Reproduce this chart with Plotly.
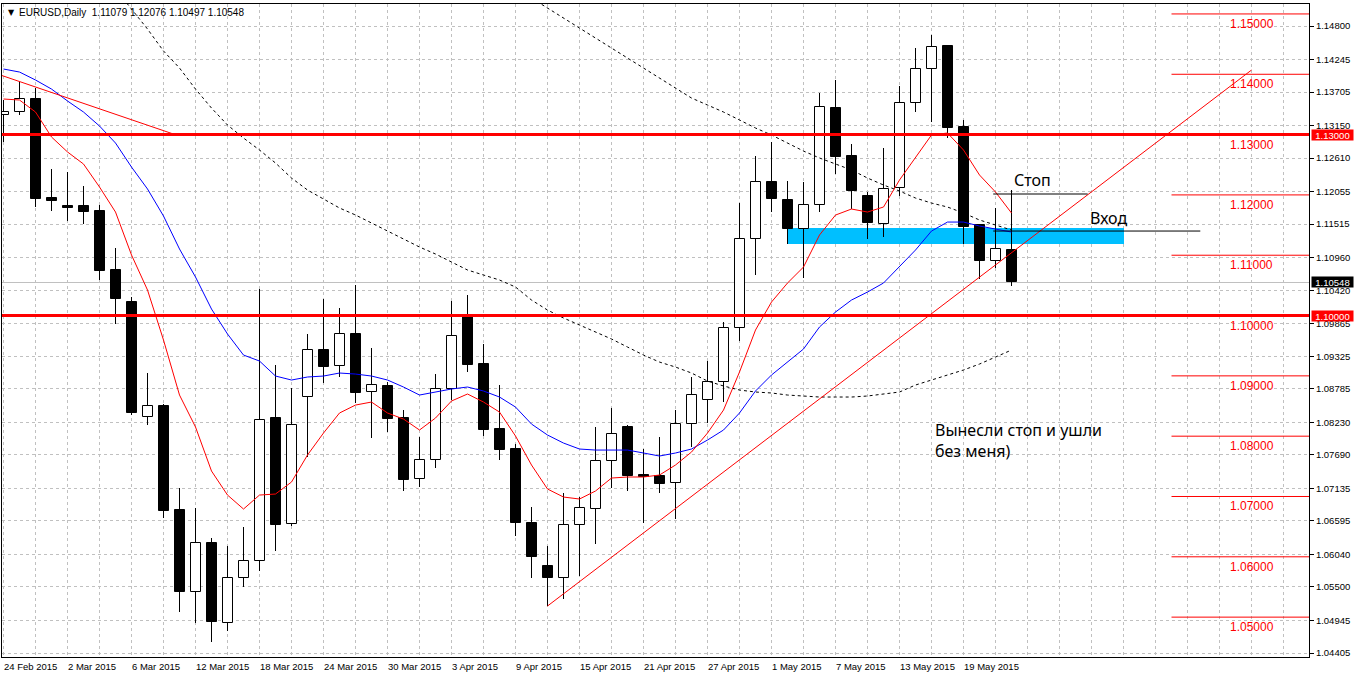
import plotly.graph_objects as go
import pandas as pd

# ---------------- data ----------------
symbol = "EURUSD,Daily"
dates = pd.bdate_range("2015-02-24", "2015-05-22")

opens = [1.1332, 1.1337, 1.1359, 1.1195, 1.1182, 1.1182, 1.1173, 1.1075,
         1.1022, 1.0832, 1.0850, 1.0678, 1.0542, 1.0623, 1.0490, 1.0565,
         1.0593, 1.0830, 1.0655, 1.0865, 1.0943, 1.0916, 1.0969, 1.0873,
         1.0883, 1.0830, 1.0729, 1.0760, 1.0878, 1.0998, 1.0920, 1.0812,
         1.0779, 1.0656, 1.0585, 1.0565, 1.0653, 1.0679, 1.0759, 1.0815,
         1.0736, 1.0734, 1.0722, 1.0820, 1.0860, 1.0890, 1.0979, 1.1127,
         1.1221, 1.1192, 1.1143, 1.1183, 1.1344, 1.1265, 1.1198, 1.1152,
         1.1211, 1.1352, 1.1409, 1.1447, 1.1313, 1.1150, 1.1090, 1.11079]
highs = [1.1357, 1.1387, 1.1377, 1.1243, 1.1238, 1.1215, 1.1183, 1.1112,
         1.1031, 1.0905, 1.0853, 1.0714, 1.0681, 1.0631, 1.0618, 1.0649,
         1.1044, 1.0918, 1.0880, 1.0969, 1.1027, 1.1012, 1.1051, 1.0946,
         1.0890, 1.0843, 1.0799, 1.0903, 1.1024, 1.1034, 1.0953, 1.0885,
         1.0787, 1.0683, 1.0618, 1.0706, 1.0699, 1.0815, 1.0847, 1.0818,
         1.0779, 1.0799, 1.0843, 1.0898, 1.0925, 1.0989, 1.1187, 1.1264,
         1.1288, 1.1223, 1.1221, 1.1369, 1.1390, 1.1284, 1.1205, 1.1278,
         1.1381, 1.1444, 1.1465, 1.1448, 1.1324, 1.1152, 1.1178, 1.12076]
lows = [1.1288, 1.1332, 1.1180, 1.1173, 1.1157, 1.1152, 1.1059, 1.0986,
        1.0835, 1.0819, 1.0664, 1.0509, 1.0490, 1.0459, 1.0477, 1.0550,
        1.0576, 1.0610, 1.0651, 1.0765, 1.0888, 1.0898, 1.0855, 1.0797,
        1.0807, 1.0709, 1.0716, 1.0747, 1.0860, 1.0906, 1.0800, 1.0760,
        1.0634, 1.0565, 1.0518, 1.0530, 1.0568, 1.0621, 1.0714, 1.0709,
        1.0656, 1.0706, 1.0663, 1.0782, 1.0822, 1.0857, 1.0958, 1.1067,
        1.1172, 1.1119, 1.1062, 1.1172, 1.1235, 1.1177, 1.1127, 1.1130,
        1.1198, 1.1337, 1.1321, 1.1294, 1.1119, 1.1061, 1.1079, 1.10497]
closes = [1.1337, 1.1359, 1.1193, 1.1190, 1.1179, 1.1172, 1.1074, 1.1027,
          1.0838, 1.0850, 1.0676, 1.0542, 1.0623, 1.0492, 1.0565, 1.0593,
          1.0827, 1.0653, 1.0818, 1.0943, 1.0915, 1.0969, 1.0872, 1.0885,
          1.0828, 1.0727, 1.0760, 1.0878, 1.0966, 1.0918, 1.0810, 1.0777,
          1.0656, 1.0600, 1.0565, 1.0653, 1.0681, 1.0759, 1.0804, 1.0734,
          1.0732, 1.0721, 1.0820, 1.0868, 1.0890, 1.0979, 1.1127, 1.1221,
          1.1193, 1.1143, 1.1183, 1.1346, 1.1263, 1.1206, 1.1153, 1.1210,
          1.1352, 1.1409, 1.1445, 1.1311, 1.1147, 1.1090, 1.1110, 1.10548]

# moving averages (one value per bar)
ma_red = [1.13590, 1.13573, 1.13374, 1.12960, 1.12712, 1.12512, 1.12131, 1.11716,
          1.11004, 1.10423, 1.09594, 1.08682, 1.08152, 1.07422, 1.07024, 1.06792,
          1.07024, 1.07041, 1.07240, 1.07688, 1.08052, 1.08384, 1.08516, 1.08566,
          1.08384, 1.08284, 1.08102, 1.08301, 1.08583, 1.08699, 1.08566, 1.08400,
          1.08003, 1.07522, 1.07124, 1.06991, 1.06958, 1.07091, 1.07306, 1.07323,
          1.07323, 1.07356, 1.07522, 1.07737, 1.08052, 1.08433, 1.09064, 1.09760,
          1.10224, 1.10539, 1.10804, 1.11335, 1.11666, 1.11766, 1.11716, 1.11799,
          1.12247, 1.12612, 1.12993, 1.13026, 1.12744, 1.12330, 1.12048, 1.11700]
ma_blue = [1.14087, 1.14037, 1.13905, 1.13755, 1.13557, 1.13374, 1.13142, 1.12860,
           1.12462, 1.12098, 1.11650, 1.11103, 1.10639, 1.10108, 1.09694, 1.09345,
           1.09246, 1.08997, 1.08931, 1.08981, 1.08997, 1.09047, 1.09030, 1.08997,
           1.08931, 1.08815, 1.08682, 1.08732, 1.08782, 1.08815, 1.08749, 1.08649,
           1.08483, 1.08201, 1.08019, 1.07886, 1.07787, 1.07770, 1.07770, 1.07770,
           1.07721, 1.07671, 1.07721, 1.07787, 1.07936, 1.08102, 1.08384, 1.08749,
           1.09014, 1.09229, 1.09445, 1.09810, 1.10058, 1.10257, 1.10390, 1.10539,
           1.10804, 1.11086, 1.11401, 1.11550, 1.11550, 1.11484, 1.11434, 1.11384]
ma_slow1_first_bar = 7
ma_slow1 = [1.15413, 1.15082, 1.14750, 1.14386, 1.14104, 1.13755, 1.13440, 1.13159, 1.12943,
            1.12744, 1.12529, 1.12280, 1.12081, 1.11932, 1.11783, 1.11667, 1.11534,
            1.11401, 1.11269, 1.11136, 1.11020, 1.10887, 1.10755, 1.10672, 1.10589,
            1.10473, 1.10257, 1.10091, 1.09959, 1.09843, 1.09727, 1.09611, 1.09478,
            1.09345, 1.09229, 1.09146, 1.09047, 1.08914, 1.08832, 1.08765, 1.08732,
            1.08716, 1.08682, 1.08666, 1.08649, 1.08649, 1.08649, 1.08666, 1.08699,
            1.08732, 1.08848, 1.08931, 1.09014, 1.09097, 1.09196, 1.09312, 1.09428]
ma_slow2_first_bar = 33
ma_slow2 = [1.15264, 1.15098, 1.14933, 1.14767, 1.14601, 1.14435, 1.14269, 1.14104,
            1.13938, 1.13772, 1.13606, 1.13490, 1.13374, 1.13242, 1.13109, 1.12993,
            1.12860, 1.12727, 1.12612, 1.12512, 1.12413, 1.12280, 1.12164, 1.12065,
            1.11948, 1.11865, 1.11799, 1.11700, 1.11584, 1.11501, 1.11418]

y_ticks = [1.14800, 1.14245, 1.13705, 1.13150, 1.12610, 1.12055, 1.11515, 1.10960,
           1.10420, 1.09865, 1.09325, 1.08785, 1.08230, 1.07690, 1.07135, 1.06595,
           1.06040, 1.05500, 1.04945, 1.04405]
label_bars = list(range(0, 61, 4))

key_levels = [1.13000, 1.10000]
thin_levels = [1.15, 1.14, 1.12, 1.11, 1.09, 1.08, 1.07, 1.06, 1.05]
thin_level_start = 73
level_label_bar = 78.0

trend_down_x = [-0.2, 10.72]
trend_down_y = [1.13988, 1.13000]
trend_up_x = [34, 78]
trend_up_y = [1.05184, 1.14070]
zone_x = [49, 70]
zone_y = [1.11181, 1.11451]
stop_x = [61.86, 67.76]
stop_price = 1.12015
entry_x = [61.86, 74.8]
entry_price = 1.11401

x_range = [-0.09375, 81.59375]
y_range = [1.04339, 1.15165]

AXF = "Liberation Sans, Arial, sans-serif"
TEXTF = "Noto Sans, Open Sans, sans-serif"

# ---------------- figure ----------------
idx = list(range(len(dates)))
fig = go.Figure()

# entry zone (first bar trace -> drawn behind the candles, above the grid)
fig.add_trace(go.Bar(x=[(zone_x[0] + zone_x[1]) / 2], base=[zone_y[0]],
                     y=[zone_y[1] - zone_y[0]], width=zone_x[1] - zone_x[0],
                     marker=dict(color="#00BFFF", line=dict(width=0)), hoverinfo="skip"))
# wicks
fig.add_trace(go.Bar(x=idx, base=lows, y=[h - l for h, l in zip(highs, lows)],
                     width=1 / 16, marker=dict(color="black", line=dict(width=0)),
                     hoverinfo="skip"))
# bodies
fig.add_trace(go.Bar(x=idx, base=[min(o, c) for o, c in zip(opens, closes)],
                     y=[abs(c - o) for o, c in zip(opens, closes)],
                     width=0.625,
                     marker=dict(color=["white" if c >= o else "black" for o, c in zip(opens, closes)],
                                 line=dict(color="black", width=1)),
                     hoverinfo="skip"))

fig.add_trace(go.Scatter(x=list(range(ma_slow1_first_bar, ma_slow1_first_bar + len(ma_slow1))),
                         y=ma_slow1, mode="lines",
                         line=dict(color="black", width=1, dash="dot")))
fig.add_trace(go.Scatter(x=list(range(ma_slow2_first_bar, ma_slow2_first_bar + len(ma_slow2))),
                         y=ma_slow2, mode="lines",
                         line=dict(color="black", width=1, dash="dot")))
fig.add_trace(go.Scatter(x=idx, y=ma_blue, mode="lines", line=dict(color="#0000FF", width=1)))
fig.add_trace(go.Scatter(x=idx, y=ma_red, mode="lines", line=dict(color="#FF0000", width=1)))

shapes = []
# bid line
shapes.append(dict(type="line", xref="paper", yref="y", x0=0, x1=1,
                   y0=closes[-1], y1=closes[-1], line=dict(color="#C0C0C0", width=1),
                   layer="below"))
for lv in key_levels:
    shapes.append(dict(type="line", xref="paper", yref="y", x0=0, x1=1, y0=lv, y1=lv,
                       line=dict(color="#FF0000", width=3)))
for lv in thin_levels:
    shapes.append(dict(type="line", xref="x", yref="y", x0=thin_level_start, x1=x_range[1],
                       y0=lv, y1=lv, line=dict(color="#FF0000", width=1)))
shapes.append(dict(type="line", xref="x", yref="y", x0=trend_down_x[0], x1=trend_down_x[1],
                   y0=trend_down_y[0], y1=trend_down_y[1], line=dict(color="#FF0000", width=1)))
shapes.append(dict(type="line", xref="x", yref="y", x0=trend_up_x[0], x1=trend_up_x[1],
                   y0=trend_up_y[0], y1=trend_up_y[1], line=dict(color="#FF0000", width=1)))
shapes.append(dict(type="line", xref="x", yref="y", x0=stop_x[0], x1=stop_x[1],
                   y0=stop_price, y1=stop_price, line=dict(color="black", width=1)))
shapes.append(dict(type="line", xref="x", yref="y", x0=entry_x[0], x1=entry_x[1],
                   y0=entry_price, y1=entry_price, line=dict(color="black", width=1)))

ann = []
# level labels on the chart
for lv in key_levels + thin_levels:
    ann.append(dict(x=level_label_bar, y=lv, xref="x", yref="y", text=f"{lv:.5f}",
                    showarrow=False, xanchor="center", yanchor="top", yshift=-1,
                    font=dict(family=AXF, size=12, color="#FF0000")))
# price boxes on the axis
for lv, bg in [(key_levels[0], "#FF0000"), (key_levels[1], "#FF0000"), (closes[-1], "black")]:
    ann.append(dict(x=1, y=lv, xref="paper", yref="y", text=f"{lv:.5f}", showarrow=False,
                    xanchor="left", yanchor="middle", xshift=2, width=41, height=10,
                    borderpad=0, bgcolor=bg, align="center",
                    font=dict(family=AXF, size=9.5, color="white")))
# date labels
for b in label_bars:
    d = dates[b]
    ann.append(dict(x=b, y=0, xref="x", yref="paper", text=f"{d.day} {d.strftime('%b')} {d.year}",
                    showarrow=False, xanchor="left", yanchor="top", xshift=-2, yshift=-2,
                    font=dict(family=AXF, size=9.5, color="black")))
# header
ann.append(dict(x=0, y=1, xref="paper", yref="paper", text="▼", showarrow=False,
                xanchor="left", yanchor="top", xshift=4, yshift=-2,
                font=dict(family="DejaVu Sans", size=8, color="black")))
ann.append(dict(x=0, y=1, xref="paper", yref="paper",
                text=f"{symbol}\u00a0\u00a0{opens[-1]:.5f} {highs[-1]:.5f} {lows[-1]:.5f} {closes[-1]:.5f}",
                showarrow=False, xanchor="left", yanchor="top", xshift=15, yshift=-1,
                font=dict(family=AXF, size=10, color="black")))
# chart notes
ann.append(dict(x=63.0, y=1.12247, xref="x", yref="y", text="Стоп", showarrow=False,
                xanchor="left", yanchor="middle", font=dict(family=TEXTF, size=16, color="black")))
ann.append(dict(x=67.8, y=1.11617, xref="x", yref="y", text="Вход", showarrow=False,
                xanchor="left", yanchor="middle", font=dict(family=TEXTF, size=16, color="black")))
ann.append(dict(x=58.1, y=1.07936, xref="x", yref="y", text="Вынесли стоп и ушли<br>без меня)",
                showarrow=False, xanchor="left", yanchor="middle", align="left",
                font=dict(family=TEXTF, size=16, color="black")))

grid = dict(gridcolor="#C0C0C0", griddash="dot", gridwidth=1)
fig.update_layout(
    width=1354, height=676,
    margin=dict(l=2, r=45, t=4, b=19, pad=0),
    paper_bgcolor="white", plot_bgcolor="white",
    showlegend=False, barmode="overlay", bargap=0,
    shapes=shapes, annotations=ann,
    xaxis=dict(range=x_range, tickmode="array", tickvals=list(range(0, 82, 2)),
               ticktext=[""] * 41,
               ticks="", showgrid=True, **grid,
               showline=True, linecolor="black", linewidth=1, mirror=True, zeroline=False,
               fixedrange=True),
    yaxis=dict(range=y_range, side="right", tickmode="array", tickvals=y_ticks,
               ticktext=[f"{v:.5f}" for v in y_ticks],
               ticks="outside", ticklen=4, tickcolor="black",
               tickfont=dict(family=AXF, size=9.5, color="black"),
               showgrid=True, **grid,
               showline=True, linecolor="black", linewidth=1, mirror=True, zeroline=False,
               fixedrange=True),
)

fig.write_html("out.html")
